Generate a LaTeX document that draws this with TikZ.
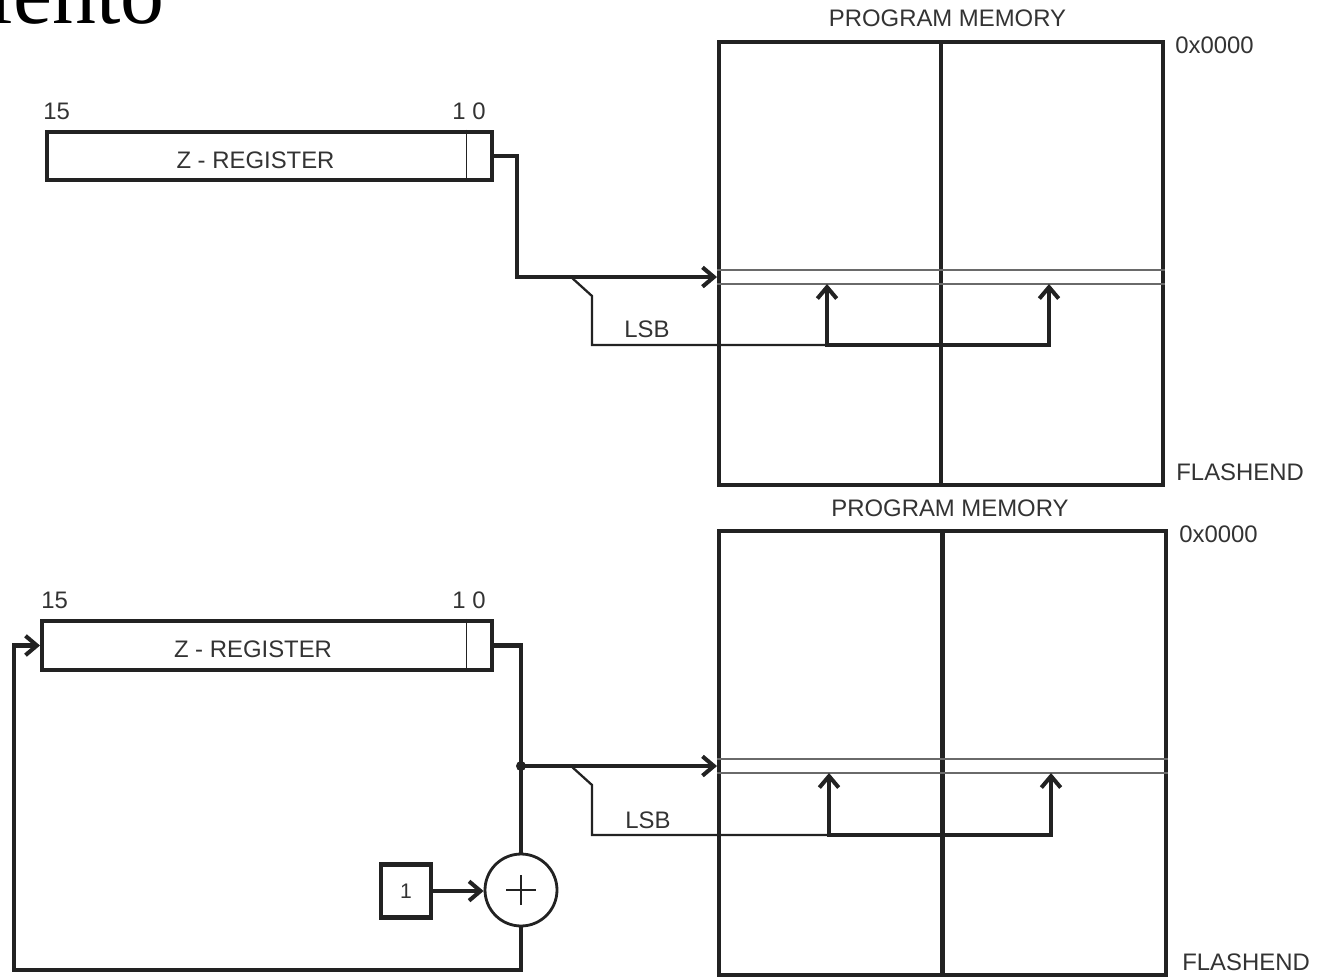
\documentclass[tikz,border=0pt]{standalone}
\usepackage{fontspec}
\setmainfont{Liberation Sans}
\newfontfamily\slidefont{Liberation Serif}
\usetikzlibrary{arrows.meta,calc}

\definecolor{inkblack}{HTML}{222222}
\definecolor{labelgray}{HTML}{333333}
\definecolor{rowgray}{HTML}{6A6A6A}

\tikzset{
  thickline/.style={draw=inkblack, line width=2.3pt},
  lsbline/.style={draw=inkblack, line width=1.3pt},
  rowline/.style={draw=rowgray, line width=1pt},
  arr/.style={-{Straight Barb[length=6.5pt,width=11pt]}},
  arrboth/.style={{Straight Barb[length=6.5pt,width=11pt]}-{Straight Barb[length=6.5pt,width=11pt]}},
  lbl/.style={text=labelgray, inner sep=0pt, font=\fontsize{13.6}{16}\selectfont},
  regbox/.style={thickline, inner sep=0pt, minimum height=0.97cm},
  membox/.style={thickline, inner sep=0pt},
  adder/.style={circle, draw=inkblack, line width=1.6pt, minimum size=1.44cm, inner sep=0pt},
  onebox/.style={thickline, inner sep=0pt, minimum width=1cm, minimum height=1.06cm},
  splitdot/.style={circle, fill=inkblack, inner sep=0pt, minimum size=0.2cm}
}

\begin{document}
\begin{tikzpicture}[x=0.02cm, y=-0.02cm]
  \useasboundingbox (0,0) rectangle (1322,977);
  % Slide title, cut by the page edge
  \node[font=\slidefont\fontsize{50}{50}\selectfont, anchor=base east, inner sep=0pt] (slidetitle) at (165,24) {iento};

  % Top: program memory
  \node[membox, minimum width=8.88cm, minimum height=8.86cm] (memA) at (941,263.5) {};
  \draw[thickline] (memA.north) -- (memA.south);
  \draw[rowline] ($(memA.north west)+(0,230)$) -- ($(memA.north east)+(0,230)$);
  \draw[rowline] ($(memA.north west)+(0,244)$) -- ($(memA.north east)+(0,244)$);
  \node[lbl, anchor=base] (titleA) at (947.5,27) {PROGRAM MEMORY};
  \node[lbl, anchor=base west] (startA) at (1175,53) {0x0000};
  \node[lbl, anchor=base west] (endA) at (1176,480) {FLASHEND};

  % Top: Z-register
  \node[regbox, minimum width=8.9cm] (zregA) at (269.5,156) {};
  \draw[lsbline, line width=0.9pt] ([xshift=-0.55cm]zregA.north east) -- ([xshift=-0.55cm]zregA.south east);
  \node[lbl, anchor=base] (znameA) at (255.5,168) {Z - REGISTER};
  \node[lbl, anchor=base west] (msbA) at (43,119) {15};
  \node[lbl, anchor=base east] (lsbitsA) at (486,119) {1 0};

  % Top: address path and LSB select
  \coordinate (inA) at ($(memA.north west)+(0,237)$);
  \coordinate (rowA) at ($(memA.north west)+(0,244)$);
  \coordinate (pickA1) at ($(memA.north west)+(110,305)$);
  \coordinate (pickA2) at ($(memA.north west)+(332,305)$);
  \draw[thickline, arr] (zregA.east) -| ($(inA)+(-200,0)$) -- (inA);
  \draw[lsbline] ($(inA)+(-146,0)$) -- ++(21,19) |- (pickA1);
  \draw[thickline, arrboth] (pickA1 |- rowA) -- (pickA1) -- (pickA2) -- (pickA2 |- rowA);
  \node[lbl, anchor=base] (lsbA) at (647,337.5) {LSB};

  % Bottom: program memory
  \node[membox, minimum width=8.94cm, minimum height=8.88cm] (memB) at (942.5,753) {};
  \draw[thickline] (memB.north) -- (memB.south);
  \draw[rowline] ($(memB.north west)+(0,230)$) -- ($(memB.north east)+(0,230)$);
  \draw[rowline] ($(memB.north west)+(0,244)$) -- ($(memB.north east)+(0,244)$);
  \node[lbl, anchor=base] (titleB) at (950,516) {PROGRAM MEMORY};
  \node[lbl, anchor=base west] (startB) at (1179,542) {0x0000};
  \node[lbl, anchor=base west] (endB) at (1182,970) {FLASHEND};

  % Bottom: Z-register with post-increment
  \node[regbox, minimum width=9.0cm, minimum height=0.98cm] (zregB) at (267,645.5) {};
  \draw[lsbline, line width=0.9pt] ([xshift=-0.55cm]zregB.north east) -- ([xshift=-0.55cm]zregB.south east);
  \node[lbl, anchor=base] (znameB) at (253,657) {Z - REGISTER};
  \node[lbl, anchor=base west] (msbB) at (41,608) {15};
  \node[lbl, anchor=base east] (lsbitsB) at (486,608) {1 0};
  \node[adder] (sumB) at (521,890) {};
  \draw[line width=0.8pt, inkblack] ([xshift=-0.3cm]sumB.center) -- ([xshift=0.3cm]sumB.center);
  \draw[line width=0.8pt, inkblack] ([yshift=-0.3cm]sumB.center) -- ([yshift=0.3cm]sumB.center);
  \node[onebox] (oneB) at (406,891) {};
  \node[lbl, font=\fontsize{12}{14}\selectfont] (onetxtB) at (oneB) {1};

  % Bottom: address path, LSB select, feedback
  \coordinate (inB) at ($(memB.north west)+(0,237)$);
  \coordinate (rowB) at ($(memB.north west)+(0,244)$);
  \coordinate (pickB1) at ($(memB.north west)+(112,306)$);
  \coordinate (pickB2) at ($(memB.north west)+(334,306)$);
  \coordinate (loopB) at (14,970);
  \node[splitdot] (splitB) at (sumB |- inB) {};
  \draw[thickline] (zregB.east) -| (sumB.north);
  \draw[thickline, arr] (splitB.center) -- (inB);
  \draw[lsbline] ($(inB)+(-146,0)$) -- ++(21,19) |- (pickB1);
  \draw[thickline, arrboth] (pickB1 |- rowB) -- (pickB1) -- (pickB2) -- (pickB2 |- rowB);
  \node[lbl, anchor=base] (lsbB) at (648,828.5) {LSB};
  \draw[thickline, arr] (oneB.east) -- (oneB.east -| sumB.west);
  \draw[thickline, arr] (sumB.south) |- (loopB) |- (zregB.west);
\end{tikzpicture}
\end{document}
